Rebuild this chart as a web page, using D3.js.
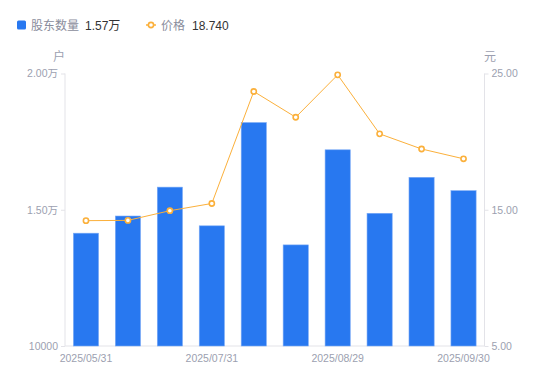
<!DOCTYPE html>
<html><head><meta charset="utf-8">
<script src="https://cdn.jsdelivr.net/npm/d3@7"></script>
<style>
body{margin:0;background:#fff;}
svg{display:block;font-family:"Liberation Sans","Noto Sans CJK SC",Arial,sans-serif;}
</style></head><body>
<svg id="c" width="550" height="381"></svg>
<script>
const categories = ["2025/05/31","2025/06/13","2025/06/20","2025/07/31","2025/08/08","2025/08/15","2025/08/29","2025/09/10","2025/09/19","2025/09/30"];
const holders = [14140,14770,15830,14410,18200,13710,17200,14870,16190,15700];
const prices = [14.20,14.22,14.93,15.46,23.68,21.79,24.90,20.57,19.46,18.74];
const leftTicks = [10000,15000,20000];
const leftTickLabels = ["10000","1.50万","2.00万"];
const rightTicks = [5,15,25];
const shownDates = ["2025/05/31","2025/07/31","2025/08/29","2025/09/30"];
const legendNames = ["股东数量","价格"];
const legendValues = ["1.57万","18.740"];

const svg = d3.select("#c");
const L = 65, R = 484.5, T = 73.5, B = 346;
const blue = "#2878f0", orange = "#fbb03b", axisCol = "#e3e3e8", txt = "#9c9fb0";

const x = d3.scaleBand().domain(categories).range([L, R]).paddingInner(0.4).paddingOuter(0.2);
const yL = d3.scaleLinear().domain([10000,20000]).range([B, T]);
const yR = d3.scaleLinear().domain([5,25]).range([B, T]);

// axes
const gl = svg.append("g").attr("transform",`translate(${L},0)`)
  .call(d3.axisLeft(yL).tickValues(leftTicks).tickSize(4).tickPadding(3).tickFormat((d,i)=>leftTickLabels[i]));
const gr = svg.append("g").attr("transform",`translate(${R},0)`)
  .call(d3.axisRight(yR).tickValues(rightTicks).tickSize(4).tickPadding(3).tickFormat(d3.format(".2f")));
const gb = svg.append("g").attr("transform",`translate(0,${B})`)
  .call(d3.axisBottom(x).tickValues(shownDates).tickSize(0).tickPadding(9));
[gl,gr,gb].forEach(g=>{
  g.selectAll("path.domain").attr("stroke",axisCol);
  g.selectAll(".tick line").attr("stroke",axisCol);
  g.selectAll("text").attr("fill",txt).attr("font-size",10.5).attr("font-family",'"Liberation Sans","Noto Sans CJK SC",sans-serif');
});
gl.select("path.domain").attr("d",`M0,${T}V${B}`);
gr.select("path.domain").attr("d",`M0,${T}V${B}`);
gb.select("path.domain").attr("d",`M${L},0H${R}`);

svg.append("text").attr("x",59).attr("y",61).attr("text-anchor","middle").attr("fill",txt).attr("font-size",12).text("户");
svg.append("text").attr("x",490).attr("y",61).attr("text-anchor","middle").attr("fill",txt).attr("font-size",12).text("元");

// bars
svg.append("g").selectAll("rect").data(holders).join("rect")
  .attr("x",(d,i)=>x(categories[i])).attr("width",x.bandwidth())
  .attr("y",d=>yL(d)).attr("height",d=>B-yL(d))
  .attr("fill",blue).attr("stroke","#7aaaf6").attr("stroke-width",0.6);

// line
const line = d3.line().x((d,i)=>x(categories[i])+x.bandwidth()/2).y(d=>yR(d));
svg.append("path").datum(prices).attr("d",line).attr("fill","none").attr("stroke",orange).attr("stroke-width",1);
svg.append("g").selectAll("circle").data(prices).join("circle")
  .attr("cx",(d,i)=>x(categories[i])+x.bandwidth()/2).attr("cy",d=>yR(d)).attr("r",2.6)
  .attr("fill","#fff").attr("stroke",orange).attr("stroke-width",1.6);

// legend
const lg = svg.append("g");
lg.append("rect").attr("x",17).attr("y",20.5).attr("width",9).attr("height",9).attr("rx",1.5).attr("fill",blue);
lg.append("text").attr("x",31).attr("y",29.5).attr("fill","#8a8d9c").attr("font-size",12).text(legendNames[0]);
lg.append("text").attr("x",85).attr("y",29.5).attr("fill","#333").attr("font-size",12).text(legendValues[0]);
lg.append("line").attr("x1",146).attr("x2",156).attr("y1",25).attr("y2",25).attr("stroke",orange).attr("stroke-width",1.5);
lg.append("circle").attr("cx",151).attr("cy",25).attr("r",2.6).attr("fill","#fff").attr("stroke",orange).attr("stroke-width",1.6);
lg.append("text").attr("x",161).attr("y",29.5).attr("fill","#8a8d9c").attr("font-size",12).text(legendNames[1]);
lg.append("text").attr("x",192).attr("y",29.5).attr("fill","#333").attr("font-size",12).text(legendValues[1]);
</script>
</body></html>
